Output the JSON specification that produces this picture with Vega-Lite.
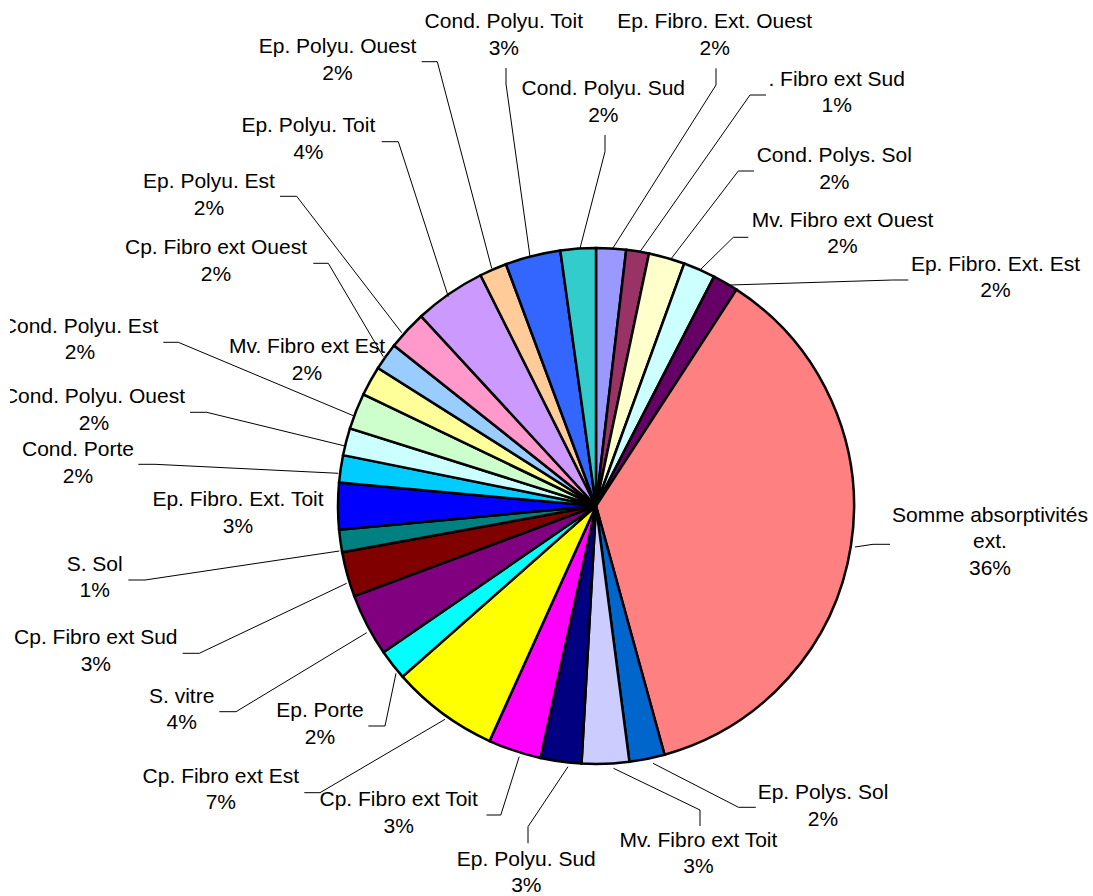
{
  "$schema": "https://vega.github.io/schema/vega-lite/v6.json",
  "width": 1083,
  "height": 896,
  "autosize": "none",
  "padding": {"left": 10, "top": 0, "right": 0, "bottom": 0},
  "background": "white",
  "config": {"view": {"stroke": null}},
  "datasets": {
    "slices": [
      {"i": 1, "name": "Ep. Fibro. Ext. Ouest", "value": 1.86},
      {"i": 2, "name": "Mv. Fibro ext Sud", "value": 1.42},
      {"i": 3, "name": "Cond. Polys. Sol", "value": 2.25},
      {"i": 4, "name": "Mv. Fibro ext Ouest", "value": 2.0},
      {"i": 5, "name": "Ep. Fibro. Ext. Est", "value": 1.6},
      {"i": 6, "name": "Somme absorptivités ext.", "value": 36.4},
      {"i": 7, "name": "Ep. Polys. Sol", "value": 2.2},
      {"i": 8, "name": "Mv. Fibro ext Toit", "value": 2.95},
      {"i": 9, "name": "Ep. Polyu. Sud", "value": 2.55},
      {"i": 10, "name": "Cp. Fibro ext Toit", "value": 3.3},
      {"i": 11, "name": "Cp. Fibro ext Est", "value": 6.7},
      {"i": 12, "name": "Ep. Porte", "value": 1.9},
      {"i": 13, "name": "S. vitre", "value": 3.9},
      {"i": 14, "name": "Cp. Fibro ext Sud", "value": 2.8},
      {"i": 15, "name": "S. Sol", "value": 1.4},
      {"i": 16, "name": "Ep. Fibro. Ext. Toit", "value": 2.9},
      {"i": 17, "name": "Cond. Porte", "value": 1.7},
      {"i": 18, "name": "Cond. Polyu. Ouest", "value": 1.7},
      {"i": 19, "name": "Cond. Polyu. Est", "value": 2.25},
      {"i": 20, "name": "Mv. Fibro ext Est", "value": 1.85},
      {"i": 21, "name": "Cp. Fibro ext Ouest", "value": 1.7},
      {"i": 22, "name": "Ep. Polyu. Est", "value": 2.45},
      {"i": 23, "name": "Ep. Polyu. Toit", "value": 4.45},
      {"i": 24, "name": "Ep. Polyu. Ouest", "value": 1.7},
      {"i": 25, "name": "Cond. Polyu. Toit", "value": 3.45},
      {"i": 26, "name": "Cond. Polyu. Sud", "value": 2.2}
    ],
    "labels": [
      {"id": 1, "text": "Ep. Fibro. Ext. Ouest\n2%", "X": 118.7, "Y": 477.7, "clip": 0},
      {"id": 2, "text": ". Fibro ext Sud\n1%", "X": 240.7, "Y": 420.3, "clip": 0},
      {"id": 3, "text": "Cond. Polys. Sol\n2%", "X": 238.3, "Y": 343.7, "clip": 0},
      {"id": 4, "text": "Mv. Fibro ext Ouest\n2%", "X": 246.5, "Y": 279.3, "clip": 0},
      {"id": 5, "text": "Ep. Fibro. Ext. Est\n2%", "X": 399.5, "Y": 235.3, "clip": 0},
      {"id": 6, "text": "Somme absorptivités\next.\n36%", "X": 394, "Y": -15.7, "clip": 0},
      {"id": 7, "text": "Ep. Polys. Sol\n2%", "X": 227, "Y": -293.3, "clip": 0},
      {"id": 8, "text": "Mv. Fibro ext Toit\n3%", "X": 102.4, "Y": -340.7, "clip": 0},
      {"id": 9, "text": "Ep. Polyu. Sud\n3%", "X": -69.7, "Y": -359.7, "clip": 0},
      {"id": 10, "text": "Cp. Fibro ext Toit\n3%", "X": -197.3, "Y": -300, "clip": 0},
      {"id": 11, "text": "Cp. Fibro ext Est\n7%", "X": -375.2, "Y": -276.7, "clip": 0},
      {"id": 12, "text": "Ep. Porte\n2%", "X": -276, "Y": -211.3, "clip": 0},
      {"id": 13, "text": "S. vitre\n4%", "X": -414.3, "Y": -196.7, "clip": 0},
      {"id": 14, "text": "Cp. Fibro ext Sud\n3%", "X": -500.2, "Y": -138, "clip": 0},
      {"id": 15, "text": "S. Sol\n1%", "X": -501.3, "Y": -64.7, "clip": 0},
      {"id": 16, "text": "Ep. Fibro. Ext. Toit\n3%", "X": -358, "Y": 0, "clip": 0},
      {"id": 17, "text": "Cond. Porte\n2%", "X": -518, "Y": 50, "clip": 0},
      {"id": 18, "text": "Cond. Polyu. Ouest\n2%", "X": -502, "Y": 102.7, "clip": 1},
      {"id": 19, "text": "Cond. Polyu. Est\n2%", "X": -516, "Y": 173.3, "clip": 1},
      {"id": 20, "text": "Mv. Fibro ext Est\n2%", "X": -289, "Y": 152.7, "clip": 0},
      {"id": 21, "text": "Cp. Fibro ext Ouest\n2%", "X": -380, "Y": 252, "clip": 0},
      {"id": 22, "text": "Ep. Polyu. Est\n2%", "X": -387, "Y": 317.7, "clip": 0},
      {"id": 23, "text": "Ep. Polyu. Toit\n4%", "X": -287.7, "Y": 373.7, "clip": 0},
      {"id": 24, "text": "Ep. Polyu. Ouest\n2%", "X": -258.5, "Y": 452.7, "clip": 0},
      {"id": 25, "text": "Cond. Polyu. Toit\n3%", "X": -92.2, "Y": 477.7, "clip": 0},
      {"id": 26, "text": "Cond. Polyu. Sud\n2%", "X": 7.3, "Y": 411, "clip": 0}
    ],
    "leaders": [
      {"id": 1, "k": 1, "X": 120, "Y": 437.7}, {"id": 1, "k": 2, "X": 120, "Y": 421}, {"id": 1, "k": 3, "X": 15.7, "Y": 256},
      {"id": 2, "k": 1, "X": 170, "Y": 411}, {"id": 2, "k": 2, "X": 154, "Y": 411}, {"id": 2, "k": 3, "X": 44, "Y": 254.3},
      {"id": 3, "k": 1, "X": 158, "Y": 335}, {"id": 3, "k": 2, "X": 142.3, "Y": 335}, {"id": 3, "k": 3, "X": 74.7, "Y": 246.7},
      {"id": 4, "k": 1, "X": 152.3, "Y": 268.7}, {"id": 4, "k": 2, "X": 137.3, "Y": 268.7}, {"id": 4, "k": 3, "X": 104, "Y": 236},
      {"id": 5, "k": 1, "X": 312.3, "Y": 226}, {"id": 5, "k": 2, "X": 296.7, "Y": 226}, {"id": 5, "k": 3, "X": 134, "Y": 221},
      {"id": 6, "k": 1, "X": 294, "Y": -38.3}, {"id": 6, "k": 2, "X": 277, "Y": -38.3}, {"id": 6, "k": 3, "X": 259, "Y": -41},
      {"id": 7, "k": 1, "X": 159.8, "Y": -301.3}, {"id": 7, "k": 2, "X": 142.5, "Y": -301.3}, {"id": 7, "k": 3, "X": 57, "Y": -257.3},
      {"id": 8, "k": 1, "X": 104, "Y": -320}, {"id": 8, "k": 2, "X": 104, "Y": -304}, {"id": 8, "k": 3, "X": 17.5, "Y": -262.3},
      {"id": 9, "k": 1, "X": -68, "Y": -337.3}, {"id": 9, "k": 2, "X": -68, "Y": -320.7}, {"id": 9, "k": 3, "X": -28, "Y": -260.7},
      {"id": 10, "k": 1, "X": -109.5, "Y": -309}, {"id": 10, "k": 2, "X": -95.2, "Y": -309}, {"id": 10, "k": 3, "X": -76.8, "Y": -250.7},
      {"id": 11, "k": 1, "X": -291.7, "Y": -286.7}, {"id": 11, "k": 2, "X": -276, "Y": -286.7}, {"id": 11, "k": 3, "X": -151, "Y": -213.3},
      {"id": 12, "k": 1, "X": -227.7, "Y": -220}, {"id": 12, "k": 2, "X": -211, "Y": -220}, {"id": 12, "k": 3, "X": -200, "Y": -167.3},
      {"id": 13, "k": 1, "X": -376.7, "Y": -205.7}, {"id": 13, "k": 2, "X": -360, "Y": -205.7}, {"id": 13, "k": 3, "X": -229.3, "Y": -126.7},
      {"id": 14, "k": 1, "X": -413.3, "Y": -147.3}, {"id": 14, "k": 2, "X": -396.7, "Y": -147.3}, {"id": 14, "k": 3, "X": -249.3, "Y": -77.3},
      {"id": 15, "k": 1, "X": -467.7, "Y": -74}, {"id": 15, "k": 2, "X": -451, "Y": -74}, {"id": 15, "k": 3, "X": -256.7, "Y": -45},
      {"id": 17, "k": 1, "X": -457.7, "Y": 41.7}, {"id": 17, "k": 2, "X": -441, "Y": 41.7}, {"id": 17, "k": 3, "X": -257.7, "Y": 32.7},
      {"id": 18, "k": 1, "X": -406, "Y": 93.7}, {"id": 18, "k": 2, "X": -389.3, "Y": 93.7}, {"id": 18, "k": 3, "X": -251, "Y": 60},
      {"id": 19, "k": 1, "X": -432.7, "Y": 163.7}, {"id": 19, "k": 2, "X": -417.7, "Y": 163.7}, {"id": 19, "k": 3, "X": -242.7, "Y": 90.3},
      {"id": 21, "k": 1, "X": -282.7, "Y": 242.7}, {"id": 21, "k": 2, "X": -267.7, "Y": 242.7}, {"id": 21, "k": 3, "X": -212.7, "Y": 149.3},
      {"id": 22, "k": 1, "X": -316, "Y": 309.7}, {"id": 22, "k": 2, "X": -299.3, "Y": 309.7}, {"id": 22, "k": 3, "X": -194.3, "Y": 173.3},
      {"id": 23, "k": 1, "X": -214.3, "Y": 364.3}, {"id": 23, "k": 2, "X": -197.7, "Y": 364.3}, {"id": 23, "k": 3, "X": -147.7, "Y": 209.3},
      {"id": 24, "k": 1, "X": -174.3, "Y": 444.3}, {"id": 24, "k": 2, "X": -158.7, "Y": 444.3}, {"id": 24, "k": 3, "X": -104.3, "Y": 237.7},
      {"id": 25, "k": 1, "X": -90, "Y": 438}, {"id": 25, "k": 2, "X": -90, "Y": 422}, {"id": 25, "k": 3, "X": -66, "Y": 249.3},
      {"id": 26, "k": 1, "X": 9, "Y": 371}, {"id": 26, "k": 2, "X": 9, "Y": 354.3}, {"id": 26, "k": 3, "X": -16, "Y": 257.7}
    ]
  },
  "layer": [
    {
      "data": {"name": "slices"},
      "mark": {"type": "arc", "radius": 258, "stroke": "#000000", "strokeWidth": 2.5},
      "encoding": {
        "x": {"datum": 0, "type": "quantitative", "scale": {"domain": [-586, 497], "nice": false, "zero": false}, "axis": null},
        "y": {"datum": 0, "type": "quantitative", "scale": {"domain": [-390, 506], "nice": false, "zero": false}, "axis": null},
        "theta": {"field": "value", "type": "quantitative", "stack": true},
        "order": {"field": "i", "type": "quantitative"},
        "color": {
          "field": "name",
          "type": "nominal",
          "legend": null,
          "scale": {
            "domain": ["Ep. Fibro. Ext. Ouest", "Mv. Fibro ext Sud", "Cond. Polys. Sol", "Mv. Fibro ext Ouest", "Ep. Fibro. Ext. Est", "Somme absorptivités ext.", "Ep. Polys. Sol", "Mv. Fibro ext Toit", "Ep. Polyu. Sud", "Cp. Fibro ext Toit", "Cp. Fibro ext Est", "Ep. Porte", "S. vitre", "Cp. Fibro ext Sud", "S. Sol", "Ep. Fibro. Ext. Toit", "Cond. Porte", "Cond. Polyu. Ouest", "Cond. Polyu. Est", "Mv. Fibro ext Est", "Cp. Fibro ext Ouest", "Ep. Polyu. Est", "Ep. Polyu. Toit", "Ep. Polyu. Ouest", "Cond. Polyu. Toit", "Cond. Polyu. Sud"],
            "range": ["#9999FF", "#993366", "#FFFFCC", "#CCFFFF", "#660066", "#FF8080", "#0066CC", "#CCCCFF", "#000080", "#FF00FF", "#FFFF00", "#00FFFF", "#800080", "#800000", "#008080", "#0000FF", "#00CCFF", "#CCFFFF", "#CCFFCC", "#FFFF99", "#99CCFF", "#FF99CC", "#CC99FF", "#FFCC99", "#3366FF", "#33CCCC"]
          }
        }
      }
    },
    {
      "data": {"name": "leaders"},
      "mark": {"type": "line", "color": "#000000", "strokeWidth": 1},
      "encoding": {
        "x": {"field": "X", "type": "quantitative", "scale": {"domain": [-586, 497], "nice": false, "zero": false}, "axis": null},
        "y": {"field": "Y", "type": "quantitative", "scale": {"domain": [-390, 506], "nice": false, "zero": false}, "axis": null},
        "detail": {"field": "id", "type": "nominal"},
        "order": {"field": "k", "type": "quantitative"}
      }
    },
    {
      "data": {"name": "labels"},
      "transform": [{"filter": "datum.clip == 0"}],
      "mark": {"type": "text", "font": "Liberation Sans", "fontSize": 21, "lineHeight": 26.5, "lineBreak": "\n", "align": "center", "baseline": "alphabetic", "color": "#000000"},
      "encoding": {
        "x": {"field": "X", "type": "quantitative", "scale": {"domain": [-586, 497], "nice": false, "zero": false}, "axis": null},
        "y": {"field": "Y", "type": "quantitative", "scale": {"domain": [-390, 506], "nice": false, "zero": false}, "axis": null},
        "text": {"field": "text", "type": "nominal"}
      }
    },
    {
      "data": {"name": "labels"},
      "transform": [{"filter": "datum.clip == 1"}],
      "mark": {"type": "text", "clip": true, "font": "Liberation Sans", "fontSize": 21, "lineHeight": 26.5, "lineBreak": "\n", "align": "center", "baseline": "alphabetic", "color": "#000000"},
      "encoding": {
        "x": {"field": "X", "type": "quantitative", "scale": {"domain": [-586, 497], "nice": false, "zero": false}, "axis": null},
        "y": {"field": "Y", "type": "quantitative", "scale": {"domain": [-390, 506], "nice": false, "zero": false}, "axis": null},
        "text": {"field": "text", "type": "nominal"}
      }
    }
  ]
}
